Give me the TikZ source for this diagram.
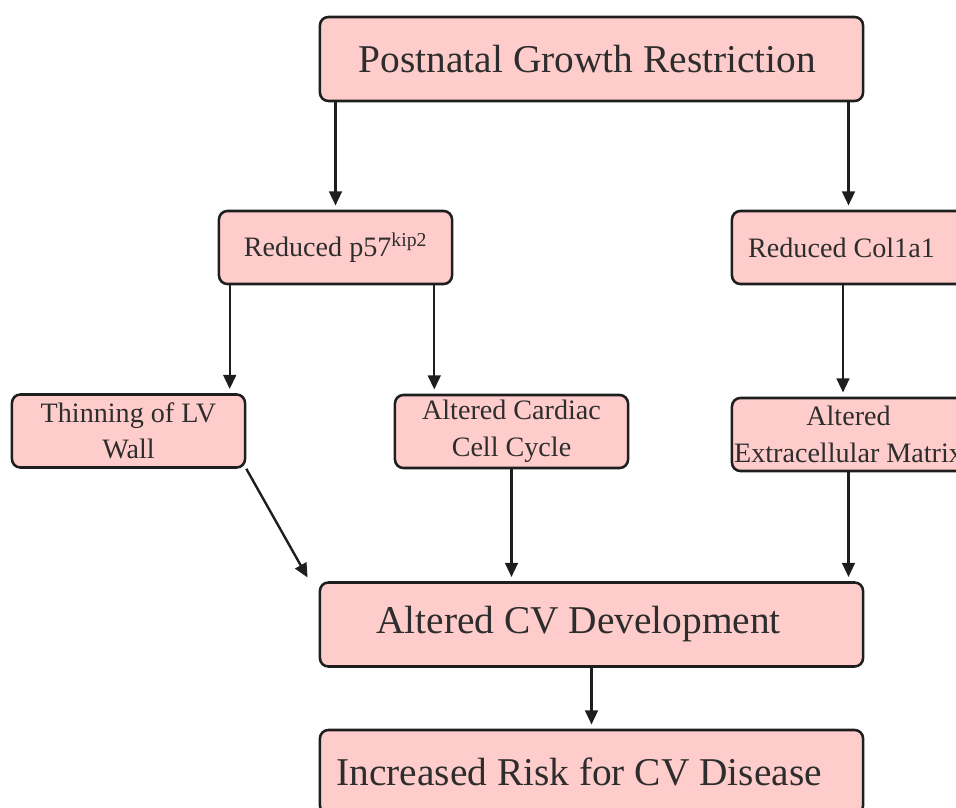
\documentclass[tikz,border=0pt]{standalone}
\usepackage{fontspec}
\setmainfont{Liberation Serif}
\usetikzlibrary{arrows.meta,calc}

\definecolor{boxpink}{RGB}{255,204,204}
\definecolor{boxline}{RGB}{30,30,30}
\definecolor{textgray}{RGB}{45,45,45}

\tikzset{
  bigbox/.style={draw=boxline,fill=boxpink,line width=1.8pt,rounded corners=6pt,
    minimum width=13.575cm,minimum height=2.1cm,inner sep=0pt,text=textgray,
    font=\fontsize{28}{34}\selectfont},
  smallbox/.style={draw=boxline,fill=boxpink,line width=1.8pt,rounded corners=6pt,
    minimum width=5.825cm,minimum height=1.825cm,inner sep=0pt,text=textgray,
    align=center,font=\fontsize{20}{26}\selectfont},
  arr/.style={draw=boxline,line width=1.7pt,-{Triangle[length=10pt,width=9pt]},shorten >=3pt}
}

\begin{document}
\begin{tikzpicture}[x=0.025cm,y=-0.025cm]
\clip (0,0) rectangle (956,808);

% top one
\node[bigbox] (top) at (591.5,59) {Postnatal Growth Restriction\hspace*{0.2cm}};

% second row
\node[smallbox] (p57) at (335.5,247.5) {Reduced p57\textsuperscript{kip2}};
\node[smallbox] (col) at (848.5,247.5) {Reduced Col1a1\hspace*{0.35cm}};

% third row
\node[smallbox] (thin) at (128.5,431) {Thinning of LV\\Wall};
\node[smallbox] (card) at (511.5,431.5) {Altered Cardiac\\Cell Cycle};
\node[smallbox] (ecm) at (848.5,434.5) {Altered\\Extracellular Matrix};

% bottom ones
\node[bigbox] (dev) at (591.5,624.5) {Altered CV Development\hspace*{0.65cm}};
\node[bigbox] (risk) at (591.5,772) {Increased Risk for CV Disease\hspace*{0.62cm}};

% arrows
\draw[arr] (top.south -| p57.north) -- (p57.north);
\draw[arr] (top.south -| col.north) -- (col.north);

\coordinate (pl) at ($(p57.south west)+(12,0)$);
\coordinate (pr) at ($(p57.south east)+(-19,0)$);
\draw[arr] (pl) -- (pl |- thin.north);
\draw[arr] (pr) -- (pr |- card.north);

\coordinate (cl) at ($(col.south)+(-5.5,0)$);
\draw[arr] (cl) -- (cl |- ecm.north);

\coordinate (dl) at ($(dev.north west)+(-9,0)$);
\draw[arr] (thin.south east) -- (dl);
\draw[arr] (card.south) -- (card.south |- dev.north);
\draw[arr] (ecm.south) -- (ecm.south |- dev.north);

\draw[arr] (dev.south) -- (risk.north);

\end{tikzpicture}
\end{document}
